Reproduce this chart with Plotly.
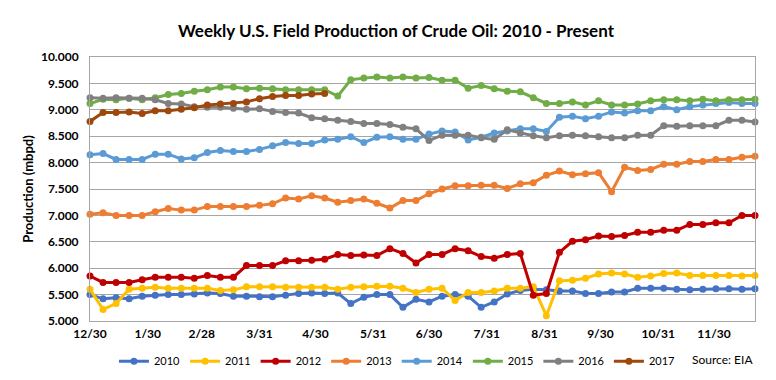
import plotly.graph_objects as go

# Week offsets (days from 12/30) for weekly observations
week_days = [7 * i for i in range(52)]

tick_days = [0, 31, 60, 91, 121, 152, 182, 213, 244, 274, 305, 335]
tick_labels = ["12/30", "1/30", "2/28", "3/31", "4/30", "5/31", "6/30",
               "7/31", "8/31", "9/30", "10/31", "11/30"]

y2010 = [5.50, 5.42, 5.44, 5.42, 5.47, 5.49, 5.50, 5.50, 5.51, 5.53, 5.52, 5.47, 5.47,
         5.46, 5.46, 5.49, 5.52, 5.53, 5.52, 5.53, 5.33, 5.45, 5.50, 5.50, 5.26, 5.41,
         5.36, 5.47, 5.50, 5.47, 5.26, 5.36, 5.51, 5.58, 5.60, 5.59, 5.57, 5.57, 5.52,
         5.52, 5.55, 5.55, 5.62, 5.62, 5.62, 5.60, 5.59, 5.60, 5.61, 5.61, 5.60, 5.61]
y2011 = [5.60, 5.22, 5.33, 5.60, 5.62, 5.64, 5.62, 5.62, 5.62, 5.62, 5.58, 5.59, 5.65,
         5.65, 5.65, 5.64, 5.64, 5.64, 5.64, 5.60, 5.64, 5.65, 5.66, 5.66, 5.62, 5.54,
         5.60, 5.62, 5.39, 5.54, 5.54, 5.57, 5.62, 5.62, 5.65, 5.10, 5.76, 5.77, 5.81,
         5.89, 5.91, 5.89, 5.83, 5.85, 5.90, 5.91, 5.86, 5.86, 5.86, 5.86, 5.85, 5.86]
y2012 = [5.85, 5.73, 5.73, 5.73, 5.78, 5.83, 5.83, 5.83, 5.81, 5.86, 5.83, 5.83, 6.05,
         6.05, 6.05, 6.14, 6.14, 6.15, 6.17, 6.26, 6.24, 6.25, 6.24, 6.37, 6.28, 6.10,
         6.26, 6.26, 6.37, 6.33, 6.22, 6.19, 6.26, 6.28, 5.49, 5.52, 6.30, 6.51, 6.54,
         6.61, 6.60, 6.62, 6.68, 6.68, 6.72, 6.72, 6.83, 6.83, 6.86, 6.86, 7.00, 7.00]
y2013 = [7.02, 7.05, 7.00, 7.00, 7.00, 7.07, 7.13, 7.10, 7.10, 7.17, 7.17, 7.17, 7.17,
         7.19, 7.22, 7.33, 7.31, 7.37, 7.33, 7.25, 7.28, 7.31, 7.23, 7.14, 7.28, 7.28,
         7.41, 7.50, 7.56, 7.56, 7.57, 7.57, 7.51, 7.60, 7.62, 7.76, 7.84, 7.77, 7.79,
         7.81, 7.45, 7.91, 7.85, 7.87, 7.97, 7.97, 8.02, 8.02, 8.06, 8.06, 8.10, 8.12]
y2014 = [8.15, 8.17, 8.06, 8.06, 8.06, 8.16, 8.16, 8.07, 8.09, 8.19, 8.23, 8.21, 8.21,
         8.25, 8.32, 8.38, 8.36, 8.36, 8.43, 8.44, 8.49, 8.38, 8.48, 8.49, 8.44, 8.44,
         8.54, 8.60, 8.58, 8.43, 8.48, 8.56, 8.60, 8.64, 8.64, 8.59, 8.86, 8.88, 8.83,
         8.88, 8.96, 8.94, 8.98, 8.98, 9.06, 9.00, 9.06, 9.09, 9.12, 9.14, 9.12, 9.12]
y2015 = [9.12, 9.20, 9.19, 9.22, 9.19, 9.23, 9.29, 9.31, 9.35, 9.38, 9.43, 9.43, 9.40,
         9.41, 9.40, 9.38, 9.38, 9.38, 9.38, 9.26, 9.57, 9.60, 9.62, 9.60, 9.62, 9.60,
         9.61, 9.56, 9.56, 9.41, 9.46, 9.40, 9.35, 9.34, 9.23, 9.12, 9.12, 9.15, 9.09,
         9.17, 9.09, 9.09, 9.11, 9.17, 9.19, 9.19, 9.17, 9.20, 9.17, 9.19, 9.19, 9.20]
y2016 = [9.23, 9.22, 9.23, 9.22, 9.22, 9.19, 9.12, 9.11, 9.06, 9.05, 9.05, 9.03, 9.01,
         9.02, 8.97, 8.95, 8.94, 8.85, 8.83, 8.80, 8.78, 8.74, 8.74, 8.72, 8.67, 8.64,
         8.42, 8.52, 8.52, 8.52, 8.47, 8.44, 8.62, 8.56, 8.51, 8.47, 8.51, 8.52, 8.51,
         8.49, 8.47, 8.47, 8.52, 8.52, 8.70, 8.69, 8.70, 8.70, 8.70, 8.80, 8.80, 8.77]
y2017 = [8.78, 8.95, 8.95, 8.96, 8.93, 8.98, 8.98, 9.01, 9.04, 9.09, 9.11, 9.12, 9.15,
         9.21, 9.25, 9.27, 9.27, 9.30, 9.31]

series = [
    ("2010", y2010, "#4472C4"),
    ("2011", y2011, "#FFC000"),
    ("2012", y2012, "#C00000"),
    ("2013", y2013, "#ED7D31"),
    ("2014", y2014, "#5B9BD5"),
    ("2015", y2015, "#70AD47"),
    ("2016", y2016, "#808080"),
    ("2017", y2017, "#9E480E"),
]

FONT = "Lato, 'Open Sans', sans-serif"

fig = go.Figure()
for name, ys, color in series:
    fig.add_trace(go.Scatter(
        x=week_days[:len(ys)], y=ys, name=name, mode="lines+markers",
        line=dict(color=color, width=3),
        marker=dict(color=color, size=7, symbol="circle"),
        cliponaxis=False,
    ))

fig.update_layout(
    width=776, height=380,
    margin=dict(l=82, r=29, t=49, b=61),
    paper_bgcolor="white", plot_bgcolor="white",
    font=dict(family=FONT, size=12, color="#000000"),
    title=dict(text="<b>Weekly U.S. Field Production of Crude Oil: 2010 - Present</b>",
               x=0.5, xanchor="center", y=1 - 23 / 380, yanchor="middle",
               font=dict(family=FONT, size=17, color="#000000")),
    showlegend=True,
    legend=dict(orientation="h", x=0.4616, xanchor="center", y=-0.152, yanchor="middle",
                font=dict(family=FONT, size=11), itemwidth=30, tracegroupgap=0,
                bgcolor="rgba(0,0,0,0)"),
    xaxis=dict(range=[0, 357], tickmode="array", tickvals=tick_days, ticktext=tick_labels,
               showgrid=False, zeroline=False, showline=True, linecolor="#A6A6A6",
               linewidth=1, mirror=True, ticks="", ticklabelstandoff=2,
               tickfont=dict(family=FONT, size=12, weight="bold")),
    yaxis=dict(range=[5.0, 10.0], dtick=0.5, tickformat=".3f",
               showgrid=True, gridcolor="#A6A6A6", gridwidth=1,
               zeroline=False, showline=True, linecolor="#A6A6A6", linewidth=1, mirror=True,
               ticks="", ticklabelstandoff=8,
               tickfont=dict(family=FONT, size=12, weight="bold"),
               title=dict(text="<b>Production (mbpd)</b>", font=dict(family=FONT, size=13),
                          standoff=4)),
    annotations=[dict(text="Source: EIA", xref="paper", yref="paper",
                      x=1.0, y=-0.145, xanchor="right", yanchor="middle",
                      showarrow=False, font=dict(family=FONT, size=12))],
)

fig.write_html("out.html")
